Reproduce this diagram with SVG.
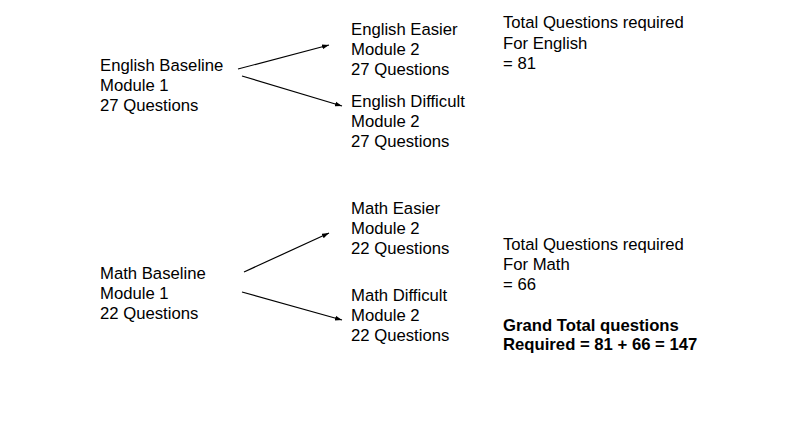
<svg xmlns="http://www.w3.org/2000/svg" width="805" height="429" viewBox="0 0 805 429">
<style>
text{font-family:"Liberation Sans",Arial,sans-serif;font-size:16.7px;fill:#000}
.b{font-weight:bold}
.c{stroke:#000;stroke-width:1.2;fill:none;marker-end:url(#a)}
</style>
<defs>
<marker id="a" viewBox="0 0 10 10" refX="10" refY="5" markerWidth="7" markerHeight="7" markerUnits="userSpaceOnUse" orient="auto">
<path d="M0,1.5 L10,5 L0,8.5 Z" fill="#000"/>
</marker>
</defs>
<rect width="805" height="429" fill="#fff"/>
<g id="connectors">
<line class="c" x1="238" y1="69" x2="329" y2="45"/>
<line class="c" x1="242" y1="76" x2="342" y2="106"/>
<line class="c" x1="244" y1="272" x2="329" y2="233"/>
<line class="c" x1="242" y1="292" x2="342" y2="320"/>
</g>
<g id="english-baseline"><text x="100" y="71">English Baseline</text><text x="100" y="91">Module 1</text><text x="100" y="111">27 Questions</text></g>
<g id="english-easier"><text x="351" y="35">English Easier</text><text x="351" y="55">Module 2</text><text x="351" y="75">27 Questions</text></g>
<g id="english-difficult"><text x="351" y="107">English Difficult</text><text x="351" y="127">Module 2</text><text x="351" y="147">27 Questions</text></g>
<g id="english-total"><text x="503" y="28">Total Questions required</text><text x="503" y="49">For English</text><text x="503" y="69">= 81</text></g>
<g id="math-baseline"><text x="100" y="279">Math Baseline</text><text x="100" y="299">Module 1</text><text x="100" y="319">22 Questions</text></g>
<g id="math-easier"><text x="351" y="214">Math Easier</text><text x="351" y="234">Module 2</text><text x="351" y="254">22 Questions</text></g>
<g id="math-difficult"><text x="351" y="301">Math Difficult</text><text x="351" y="321">Module 2</text><text x="351" y="341">22 Questions</text></g>
<g id="math-total"><text x="503" y="250">Total Questions required</text><text x="503" y="270">For Math</text><text x="503" y="290">= 66</text></g>
<g id="grand-total"><text class="b" x="503" y="331">Grand Total questions</text><text class="b" x="503" y="350">Required = 81 + 66 = 147</text></g>
</svg>
